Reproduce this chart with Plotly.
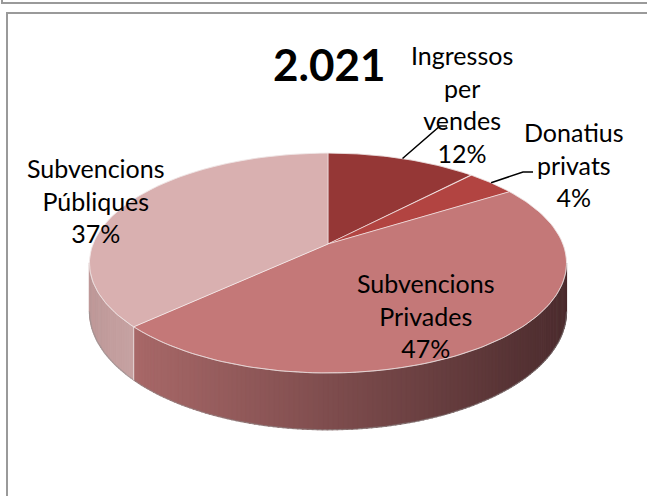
import numpy as np
import plotly.graph_objects as go

# ---- data ----
title_text = "2.021"
labels = ["Ingressos per vendes", "Donatius privats", "Subvencions Privades", "Subvencions Públiques"]
label_lines = [["Ingressos", "per", "vendes"], ["Dona\u200ctius", "privats"], ["Subvencions", "Privades"], ["Subvencions", "Públiques"]]
values = [12, 4, 47, 37]

# ---- style ----
top_colors = ["#953736", "#B24441", "#C47878", "#D9B0B0"]
side_colors = {2: ("#A86868", "#4C2C2E"), 3: ("#BE9898", "#C6A2A2")}
label_pos = [(462, 55), (574, 132), (426, 283), (96, 168)]
leader_ends = {0: [(440, 126), (447, 126)], 1: [(523, 172), (533, 172)]}
FONT = "Lato"
FONT_SIZE = 25
W, H = 647, 496
CX, CY, RX, RY, K, T = 328, 244, 235, 106.7, 0.173, 47


def proj(theta_deg, drop=0.0):
    th = np.radians(theta_deg)
    w = 1 + K * np.cos(th)
    x = CX + RX * np.sin(th) / w
    y = CY - RY * np.cos(th) / w + drop / w
    return x, y


def hex2rgb(h):
    h = h.lstrip("#")
    return np.array([int(h[i:i + 2], 16) for i in (0, 2, 4)], float)


def mix(c1, c2, t):
    c = hex2rgb(c1) * (1 - t) + hex2rgb(c2) * t
    return "rgb(%d,%d,%d)" % tuple(np.round(c))


total = sum(values)
bounds = np.concatenate([[0], np.cumsum(values) / total * 360])

fig = go.Figure()

# ---- side (extrusion) ----
vis_lo = 90 + np.degrees(np.arcsin(K))
vis_hi = 270 - np.degrees(np.arcsin(K))
x_left, _ = proj(vis_hi)
x_right, _ = proj(vis_lo)
step = 1.0
for i in range(len(values)):
    a0, a1 = max(bounds[i], vis_lo), min(bounds[i + 1], vis_hi)
    if a1 <= a0:
        continue
    angs = np.arange(a0, a1, step)
    angs = np.append(angs, a1)
    for j in range(len(angs) - 1):
        t1, t2 = angs[j], angs[j + 1] + 0.3
        xs1, ys1 = proj(t1)
        xs2, ys2 = proj(t2)
        xb2, yb2 = proj(t2, T)
        xb1, yb1 = proj(t1, T)
        xm = (xs1 + xs2) / 2
        c1, c2 = side_colors.get(i, (top_colors[i], top_colors[i]))
        if i == 2:
            xa, _ = proj(bounds[3])
            tt = np.clip((xa - xm) / (xa - x_right + 1e-9), 0, 1)
        else:
            tt = np.clip((xm - x_left) / 40.0, 0, 1)
        col = mix(c1, c2, tt)
        fig.add_trace(go.Scatter(x=[xs1, xs2, xb2, xb1, xs1], y=[ys1, ys2, yb2, yb1, ys1],
                                 mode="lines", fill="toself", fillcolor=col,
                                 line=dict(color=col, width=0.6), hoverinfo="skip", showlegend=False))

# bottom outline
angs = np.linspace(vis_lo, vis_hi, 200)
bx, by = proj(angs, T)
fig.add_trace(go.Scatter(x=bx, y=by, mode="lines", line=dict(color="rgba(140,140,140,0.5)", width=1.2),
                         hoverinfo="skip", showlegend=False))
# side boundary lines
for b in bounds[1:-1]:
    if vis_lo < b < vis_hi:
        x0, y0 = proj(b)
        x1, y1 = proj(b, T)
        fig.add_trace(go.Scatter(x=[x0, x1], y=[y0, y1], mode="lines",
                                 line=dict(color="rgba(255,255,255,0.6)", width=1),
                                 hoverinfo="skip", showlegend=False))

# ---- top faces ----
for i in range(len(values)):
    angs = np.linspace(bounds[i], bounds[i + 1], 120)
    ex, ey = proj(angs)
    px = np.concatenate([[CX], ex, [CX]])
    py = np.concatenate([[CY], ey, [CY]])
    fig.add_trace(go.Scatter(x=px, y=py, mode="lines", fill="toself", fillcolor=top_colors[i],
                             line=dict(color="rgba(255,255,255,0.5)", width=1),
                             hoverinfo="skip", showlegend=False, name=labels[i]))

# top outer rim
angs = np.linspace(0, 360, 400)
ex, ey = proj(angs)
fig.add_trace(go.Scatter(x=ex, y=ey, mode="lines", line=dict(color="rgba(235,225,225,0.6)", width=1),
                         hoverinfo="skip", showlegend=False))

# ---- labels ----
ann = []
for i, lines in enumerate(label_lines):
    pct = "%d%%" % round(values[i] / total * 100)
    txt = "<br>".join(lines + [pct])
    lx, ly = label_pos[i]
    ann.append(dict(x=lx, y=ly - 17, xref="x", yref="y", text=txt, showarrow=False,
                    xanchor="center", yanchor="top",
                    font=dict(family=FONT, size=FONT_SIZE, color="#000000"), align="center"))

ann.append(dict(x=329, y=64, xref="x", yref="y", text="<b>%s</b>" % title_text, showarrow=False,
                xanchor="center", yanchor="middle",
                font=dict(family=FONT, size=44, color="#000000")))

# leader lines
for i, pts in leader_ends.items():
    mid = (bounds[i] + bounds[i + 1]) / 2
    sx, sy = proj(mid)
    xs = [sx] + [p[0] for p in pts]
    ys = [sy] + [p[1] for p in pts]
    fig.add_trace(go.Scatter(x=xs, y=ys, mode="lines", line=dict(color="#000000", width=1.5),
                             hoverinfo="skip", showlegend=False))

shapes = [
    dict(type="line", xref="x", yref="y", x0=2, y0=0, x1=2, y1=3, line=dict(color="#9a9a9a", width=2)),
    dict(type="line", xref="x", yref="y", x0=1, y0=3, x1=W, y1=3, line=dict(color="#9a9a9a", width=2)),
    dict(type="line", xref="x", yref="y", x0=7, y0=13, x1=7, y1=H, line=dict(color="#9a9a9a", width=2)),
    dict(type="line", xref="x", yref="y", x0=6, y0=13, x1=W, y1=13, line=dict(color="#9a9a9a", width=2)),
]

fig.update_layout(width=W, height=H, autosize=False, margin=dict(l=0, r=0, t=0, b=0),
                  paper_bgcolor="white", plot_bgcolor="white", showlegend=False,
                  xaxis=dict(range=[0, W], visible=False, fixedrange=True),
                  yaxis=dict(range=[H, 0], visible=False, fixedrange=True),
                  annotations=ann, shapes=shapes)

fig.write_html("out.html", config={"displayModeBar": False})
